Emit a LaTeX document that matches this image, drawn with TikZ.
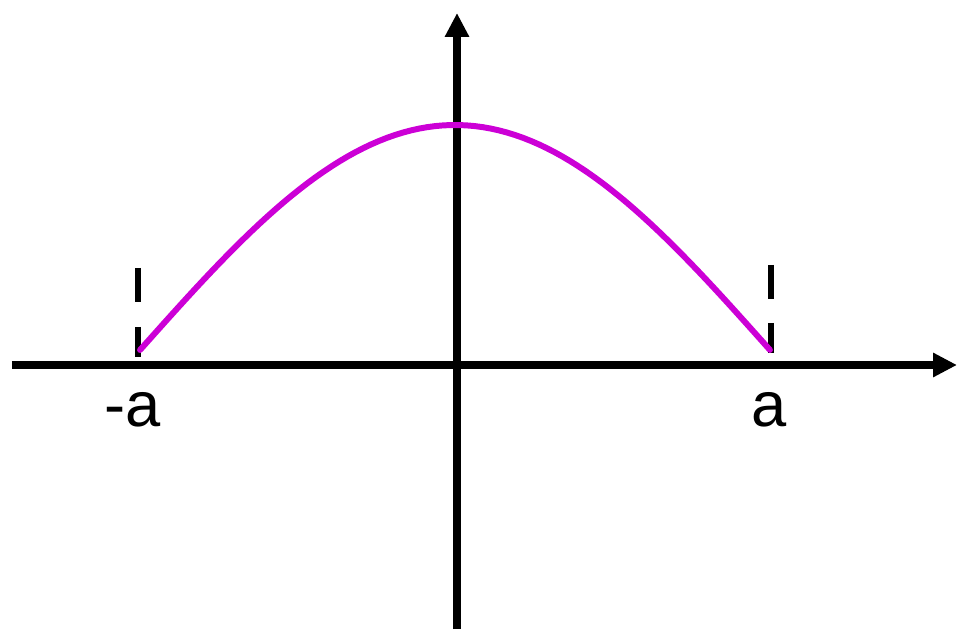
\documentclass[tikz,border=0pt]{standalone}
\usepackage{fontspec}
\setmainfont{Liberation Sans}
\usetikzlibrary{arrows.meta}
\definecolor{curvemag}{RGB}{204,0,214}
\tikzset{
  axisline/.style={line width=2pt,-{Triangle[length=0.24cm,width=0.23cm]}},
  endmark/.style={line width=1.9pt},
  axislabel/.style={font=\fontsize{18}{22}\selectfont,inner sep=0pt,anchor=base}
}
\begin{document}
\begin{tikzpicture}
  \useasboundingbox (0,0) rectangle (9.58,6.29);
  \coordinate (xstart) at (0.12,2.64);
  \coordinate (xend) at (9.57,2.64);
  \coordinate (ystart) at (4.57,0);
  \coordinate (yend) at (4.57,6.16);
  \draw[axisline](xstart)--(xend);
  \draw[axisline](ystart)--(yend);
  \draw[endmark](1.38,3.61)--(1.38,3.27);
  \draw[endmark](1.38,3.02)--(1.38,2.72);
  \draw[endmark](7.71,3.64)--(7.71,3.30);
  \draw[endmark](7.71,3.06)--(7.71,2.76);
  \draw[curvemag,line width=1.7pt,line cap=round] plot[domain=-1:1,samples=80]({4.55+3.15*\x},{2.79+2.25*cos(90*\x)});
  \node[axislabel] (minusa) at (1.33,2.02){-a};
  \node[axislabel] (plusa) at (7.69,2.02){a};
\end{tikzpicture}
\end{document}
